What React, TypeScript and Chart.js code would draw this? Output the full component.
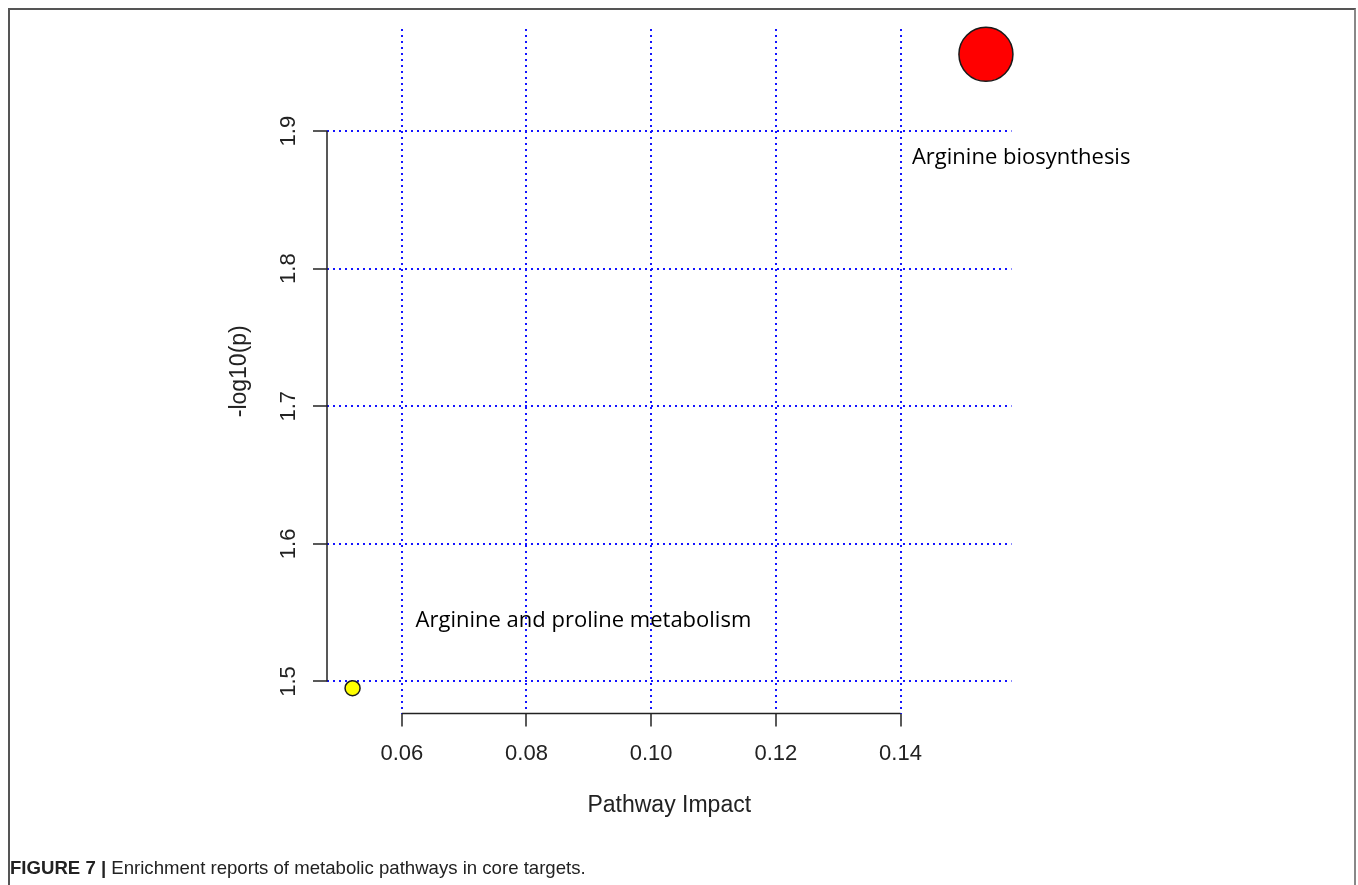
import React, { useEffect, useRef } from "react";
import { Chart, registerables } from "chart.js";

Chart.register(...registerables);

// ---- data ----
const pathways = ["Arginine biosynthesis", "Arginine and proline metabolism"];
const pathwayImpact = [0.1537, 0.0521];
const negLogP = [1.9558, 1.4951];
const pointColors = ["#ff0000", "#ffff00"];
const xTicks = [0.06, 0.08, 0.1, 0.12, 0.14];
const yTicks = [1.5, 1.6, 1.7, 1.8, 1.9];
const xRange = [0.048, 0.1578];
const yRange = [1.4767, 1.9742];

const TICK_FONT = { family: "'Liberation Sans', Arial, sans-serif", size: 22 };
const TITLE_FONT = { family: "'Liberation Sans', Arial, sans-serif", size: 23 };
const GRID_COLOR = "rgba(20,20,255,1)";

// label placement relative to each point (pixels)
const labelOffsets = [
  [-74, 110],
  [63, -61],
];

const annotatePlugin = {
  id: "annotate",
  afterDatasetsDraw(chart: any) {
    const { ctx, scales } = chart;
    const x = scales.x;
    const y = scales.y;
    ctx.save();
    // R-style axis lines spanning first to last tick
    ctx.strokeStyle = "#222";
    ctx.lineWidth = 1.5;
    ctx.setLineDash([]);
    ctx.beginPath();
    const xa = x.getPixelForValue(xTicks[0]);
    const xb = x.getPixelForValue(xTicks[xTicks.length - 1]);
    ctx.moveTo(xa, x.top);
    ctx.lineTo(xb, x.top);
    const ya = y.getPixelForValue(yTicks[0]);
    const yb = y.getPixelForValue(yTicks[yTicks.length - 1]);
    ctx.moveTo(y.right, ya);
    ctx.lineTo(y.right, yb);
    ctx.stroke();
    // pathway labels
    ctx.font = "22px 'Open Sans', 'Noto Sans', sans-serif";
    ctx.fillStyle = "#000";
    ctx.textAlign = "left";
    ctx.textBaseline = "alphabetic";
    pathways.forEach((name, i) => {
      const px = x.getPixelForValue(pathwayImpact[i]) + labelOffsets[i][0];
      const py = y.getPixelForValue(negLogP[i]) + labelOffsets[i][1];
      ctx.fillText(name, px, py);
    });
    ctx.restore();
  },
};

export default function App() {
  const canvasRef = useRef<HTMLCanvasElement | null>(null);

  useEffect(() => {
    const canvas = canvasRef.current;
    if (!canvas) return;
    const chart = new Chart(canvas, {
      type: "scatter",
      data: {
        datasets: [
          {
            label: "pathways",
            data: pathwayImpact.map((v, i) => ({ x: v, y: negLogP[i] })),
            backgroundColor: pointColors,
            borderColor: "#1a1a1a",
            borderWidth: 1.5,
            pointRadius: [27, 7.5],
            pointHoverRadius: [27, 7.5],
            clip: false,
          } as any,
        ],
      },
      options: {
        animation: false,
        responsive: false,
        devicePixelRatio: 1,
        layout: { padding: { left: 0, top: 29, right: 346.5, bottom: 51.5 } },
        plugins: {
          legend: { display: false },
          tooltip: { enabled: false },
        },
        events: [],
        scales: {
          x: {
            type: "linear",
            position: "bottom",
            min: xRange[0],
            max: xRange[1],
            afterBuildTicks: (s: any) => {
              s.ticks = xTicks.map((value) => ({ value }));
            },
            afterFit: (s: any) => {
              s.height = 120;
            },
            grid: {
              color: GRID_COLOR,
              lineWidth: 2,
              drawTicks: true,
              tickLength: 13,
              tickWidth: 1.5,
              tickColor: "#222",
              tickBorderDash: [],
            } as any,
            border: { display: false, dash: [2, 4] },
            ticks: {
              font: TICK_FONT,
              color: "#222",
              padding: 14,
              maxRotation: 0,
              minRotation: 0,
              callback: (v: any) => Number(v).toFixed(2),
            },
            title: {
              display: true,
              text: "Pathway Impact",
              font: TITLE_FONT,
              color: "#222",
              padding: { top: 0, bottom: 14 },
            },
          },
          y: {
            type: "linear",
            position: "left",
            min: yRange[0],
            max: yRange[1],
            afterBuildTicks: (s: any) => {
              s.ticks = yTicks.map((value) => ({ value }));
            },
            afterFit: (s: any) => {
              s.width = 327;
            },
            grid: {
              color: GRID_COLOR,
              lineWidth: 2,
              drawTicks: true,
              tickLength: 14,
              tickWidth: 1.5,
              tickColor: "#222",
              tickBorderDash: [],
            } as any,
            border: { display: false, dash: [2, 4] },
            ticks: {
              font: TICK_FONT,
              color: "#222",
              padding: 9,
              minRotation: 90,
              maxRotation: 90,
              crossAlign: "center",
              callback: (v: any) => Number(v).toFixed(1),
            },
            title: {
              display: true,
              text: "-log10(p)",
              font: TITLE_FONT,
              color: "#222",
              padding: { top: 226, bottom: 0 },
            },
          },
        },
      },
      plugins: [annotatePlugin],
    });
    return () => chart.destroy();
  }, []);

  return (
    <div
      style={{
        position: "fixed",
        left: 0,
        top: 0,
        width: 1358,
        height: 885,
        overflow: "hidden",
        background: "#fff",
      }}
    >
      <div
        style={{
          position: "absolute",
          left: 8,
          top: 8,
          width: 1348,
          height: 1000,
          boxSizing: "border-box",
          borderLeft: "2px solid #555",
          borderTop: "2px solid #555",
          borderRight: "2px solid #888",
        }}
      />
      <canvas
        ref={canvasRef}
        width={1358}
        height={885}
        style={{ position: "absolute", left: 0, top: 0, width: 1358, height: 885, display: "block" }}
      />
      <div
        style={{
          position: "absolute",
          left: 10,
          top: 857,
          font: "18.6px 'Liberation Sans', Arial, sans-serif",
          lineHeight: "22px",
          color: "#222",
          whiteSpace: "nowrap",
        }}
      >
        <b>FIGURE 7 |</b> Enrichment reports of metabolic pathways in core targets.
      </div>
    </div>
  );
}
